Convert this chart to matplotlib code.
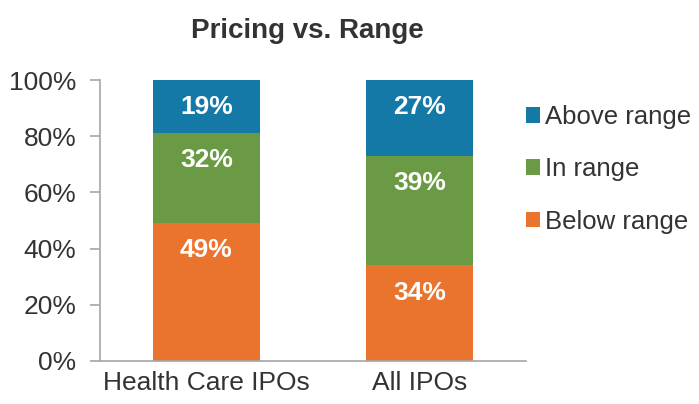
import numpy as np
import matplotlib.pyplot as plt

plt.rcParams['font.family'] = ['Liberation Sans', 'DejaVu Sans']

categories = ['Health Care IPOs', 'All IPOs']
below = [49, 34]
in_range = [32, 39]
above = [19, 27]

colors = {'Below range': '#EA742D', 'In range': '#6A9B44', 'Above range': '#1479A7'}
text_color = '#333333'
axis_color = '#A6A6A6'

x = np.arange(len(categories))
width = 0.5

fig = plt.figure(figsize=(6.99, 4.04), dpi=100)
ax = fig.add_axes([100 / 699, 1 - 361 / 404, 426 / 699, 281 / 404])

b1 = ax.bar(x, below, width, color=colors['Below range'], label='Below range')
b2 = ax.bar(x, in_range, width, bottom=below, color=colors['In range'], label='In range')
b3 = ax.bar(x, above, width, bottom=np.add(below, in_range),
            color=colors['Above range'], label='Above range')

# value labels sit just inside the top of each segment
for bars, vals in [(b1, below), (b2, in_range), (b3, above)]:
    for rect, v in zip(bars, vals):
        ax.annotate(f'{v}%', (rect.get_x() + rect.get_width() / 2, rect.get_y() + rect.get_height()),
                    xytext=(0, -19.5), textcoords='offset points', ha='center', va='center',
                    color='white', fontsize=19, fontweight='bold')

ax.set_xlim(-0.5, 1.5)
ax.set_ylim(0, 100)
ax.set_yticks(np.arange(0, 101, 20))
ax.set_yticklabels([f'{t}%' for t in range(0, 101, 20)])
ax.set_xticks(x, categories)

for side in ['top', 'right']:
    ax.spines[side].set_visible(False)
for side in ['left', 'bottom']:
    ax.spines[side].set_color(axis_color)
    ax.spines[side].set_linewidth(1.2)
ax.tick_params(axis='y', colors=axis_color, labelcolor=text_color, labelsize=19,
               length=7, width=1.2, pad=10)
ax.tick_params(axis='x', length=0, labelcolor=text_color, labelsize=19, pad=7)

fig.suptitle('Pricing vs. Range', x=307 / 699, y=1 - 18 / 404, fontsize=20,
             fontweight='bold', color=text_color, va='top')

handles = [b3, b2, b1]
leg = fig.legend(handles, [h.get_label() for h in handles], loc='upper left',
                 bbox_to_anchor=(526 / 699, 1 - 105 / 404), frameon=False, fontsize=18.5,
                 handlelength=0.55, handleheight=0.55, handletextpad=0.2, labelspacing=1.1,
                 borderaxespad=0, borderpad=0)
for t in leg.get_texts():
    t.set_color(text_color)

fig.savefig('out.png', dpi=100)
